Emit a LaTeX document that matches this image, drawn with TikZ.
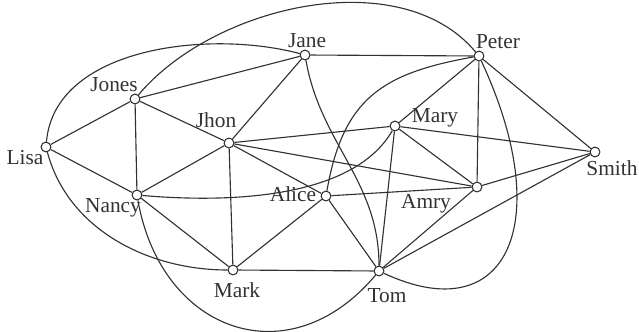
\documentclass[tikz,border=0pt]{standalone}
\usepackage{fontspec}
\setmainfont{Liberation Serif}
\usepackage{tikz}
\usetikzlibrary{positioning}
\definecolor{cedge}{RGB}{50,50,50}
\tikzset{
  person/.style={circle, draw=cedge, fill=white, line width=0.75pt, inner sep=0pt, minimum size=7pt},
  tag/.style={font=\fontsize{15.2}{18}\selectfont, text=cedge, inner sep=0pt},
  link/.style={draw=cedge, line width=0.8pt}
}

\begin{document}
\begin{tikzpicture}[x=0.025cm, y=0.025cm]
  \useasboundingbox (0,0) rectangle (639,331);
  \node[person] (lisa)  at (46,184) {};
  \node[person] (jones) at (135,232) {};
  \node[person] (jane)  at (305,276) {};
  \node[person] (peter) at (479,275) {};
  \node[person] (jhon)  at (229,188) {};
  \node[person] (mary)  at (395,205) {};
  \node[person] (smith) at (595,179) {};
  \node[person] (nancy) at (137,136) {};
  \node[person] (alice) at (326,135) {};
  \node[person] (amry)  at (477,144) {};
  \node[person] (mark)  at (233,61) {};
  \node[person] (tom)   at (379,60) {};

  \node[tag] (lisa-l)  at (25,173)  {Lisa};
  \node[tag] (jones-l) at (114,246) {Jones};
  \node[tag] (jane-l)  at (307,290) {Jane};
  \node[tag] (peter-l) at (498,289) {Peter};
  \node[tag] (jhon-l)  at (216,211) {Jhon};
  \node[tag] (mary-l)  at (435,213) {Mary};
  \node[tag] (smith-l) at (612,163) {Smith};
  \node[tag] (nancy-l) at (113,123) {Nancy};
  \node[tag] (alice-l) at (293,137) {Alice};
  \node[tag] (amry-l)  at (426,127) {Amry};
  \node[tag] (mark-l)  at (237,41)  {Mark};
  \node[tag] (tom-l)   at (387,35)  {Tom};

  \foreach \a/\b in {lisa/jones, lisa/nancy, jones/jane, jones/jhon, jones/nancy,
                     jane/peter, jane/jhon, jhon/nancy, jhon/mark, jhon/mary,
                     jhon/amry, jhon/alice, nancy/mark, mark/alice, mark/tom,
                     alice/amry, alice/tom, mary/peter, mary/smith, mary/amry,
                     mary/tom, peter/amry, peter/smith, amry/smith, amry/tom, tom/smith}
    \draw[link] (\a) -- (\b);

  \draw[link] (lisa) to[out=85, in=165, looseness=0.9] (jane);
  \draw[link] (jones) to[out=50, in=130, looseness=0.88] (peter);
  \draw[link] (peter) to[out=190, in=80, looseness=1.2] (alice);
  \draw[link] (jane) to[out=-80, in=90] (tom);
  \draw[link] (nancy) to[out=-5, in=-120, looseness=0.8] (mary);
  \draw[link] (nancy) to[out=-80, in=-130, looseness=1.38] (tom);
  \draw[link] (lisa) to[out=-75, in=180, looseness=0.95] (mark);
  \draw[link] (peter) to[out=-65, in=-25, out looseness=1.94, in looseness=1.5] (tom);
\end{tikzpicture}
\end{document}
